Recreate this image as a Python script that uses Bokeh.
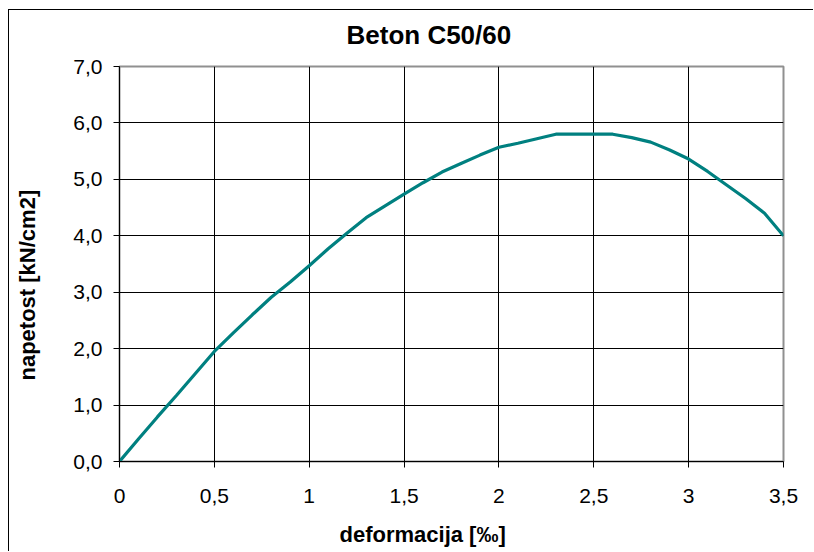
from bokeh.plotting import figure
from bokeh.models import FixedTicker, Title
from bokeh.embed import file_html
from bokeh.resources import INLINE

# Data
strain = [0.0, 0.1, 0.2, 0.3, 0.4, 0.5, 0.6, 0.7, 0.8, 0.9, 1.0, 1.1, 1.2,
          1.3, 1.4, 1.5, 1.6, 1.7, 1.8, 1.9, 2.0, 2.1, 2.2, 2.3, 2.4, 2.5,
          2.6, 2.7, 2.8, 2.9, 3.0, 3.1, 3.2, 3.3, 3.4, 3.5]
stress = [0.00, 0.40, 0.79, 1.17, 1.56, 1.95, 2.28, 2.60, 2.91, 3.18, 3.47,
          3.77, 4.05, 4.32, 4.53, 4.74, 4.94, 5.13, 5.28, 5.43, 5.57, 5.64,
          5.72, 5.80, 5.80, 5.80, 5.80, 5.74, 5.66, 5.52, 5.36, 5.14, 4.90,
          4.66, 4.40, 4.00]

x_ticks = [0, 0.5, 1, 1.5, 2, 2.5, 3, 3.5]
x_tick_labels = ["0", "0,5", "1", "1,5", "2", "2,5", "3", "3,5"]
y_ticks = [0, 1, 2, 3, 4, 5, 6, 7]
y_tick_labels = ["0,0", "1,0", "2,0", "3,0", "4,0", "5,0", "6,0", "7,0"]

title_text = "Beton C50/60"
x_label = "deformacija [‰]"
y_label = "napetost [kN/cm2]"

FONT = "Liberation Sans"

p = figure(width=805, height=542, output_backend="svg", toolbar_location=None,
           x_range=(0, 3.5), y_range=(0, 7),
           min_border_left=110, min_border_right=31,
           min_border_top=56, min_border_bottom=91)
p.styles = {"margin-left": "8px", "margin-top": "9px",
            "border-left": "1px solid #000000", "border-top": "1px solid #000000"}

p.background_fill_color = "white"
p.border_fill_color = "white"
p.outline_line_color = "#909090"
p.outline_line_width = 2

for ax, ticks, labels in ((p.xaxis[0], x_ticks, x_tick_labels), (p.yaxis[0], y_ticks, y_tick_labels)):
    ax.ticker = FixedTicker(ticks=ticks)
    ax.major_label_overrides = {t: l for t, l in zip(ticks, labels)}
    ax.minor_tick_line_color = None
    ax.major_tick_in = 0
    ax.major_tick_out = 6
    ax.major_tick_line_color = "black"
    ax.axis_line_color = "black"
    ax.axis_line_width = 1
    ax.major_label_text_font = FONT
    ax.major_label_text_font_size = "21px"
    ax.major_label_text_color = "black"

p.xaxis.major_label_standoff = 21
p.yaxis.major_label_standoff = 11

p.xgrid.ticker = FixedTicker(ticks=x_ticks)
p.ygrid.ticker = FixedTicker(ticks=y_ticks)
p.xgrid.grid_line_color = "black"
p.ygrid.grid_line_color = "black"
p.xgrid.grid_line_width = 1
p.ygrid.grid_line_width = 1

p.line(strain, stress, line_color="#008080", line_width=3.2)


def spacer(size):
    # blank (non-breaking space) title used only to reserve room in a side panel
    return Title(text="\u00a0", text_font_size="1px", text_color="white", standoff=size)


# Title and axis labels, positioned like the original (centred on the whole chart area)
p.add_layout(spacer(7), "above")
p.add_layout(Title(text=title_text, text_font=FONT, text_font_style="bold",
                   text_font_size="26px", text_color="black",
                   align="left", offset=227, vertical_align="bottom", standoff=14), "above")
p.add_layout(spacer(6), "below")
p.add_layout(Title(text=x_label, text_font=FONT, text_font_style="bold",
                   text_font_size="22px", text_color="black",
                   align="left", offset=220, vertical_align="bottom", standoff=11), "below")
p.add_layout(spacer(24), "left")
p.add_layout(Title(text=y_label, text_font=FONT, text_font_style="bold",
                   text_font_size="22px", text_color="black",
                   align="left", offset=81, vertical_align="bottom", standoff=7), "left")

open("out.html", "w").write(file_html(p, INLINE))
